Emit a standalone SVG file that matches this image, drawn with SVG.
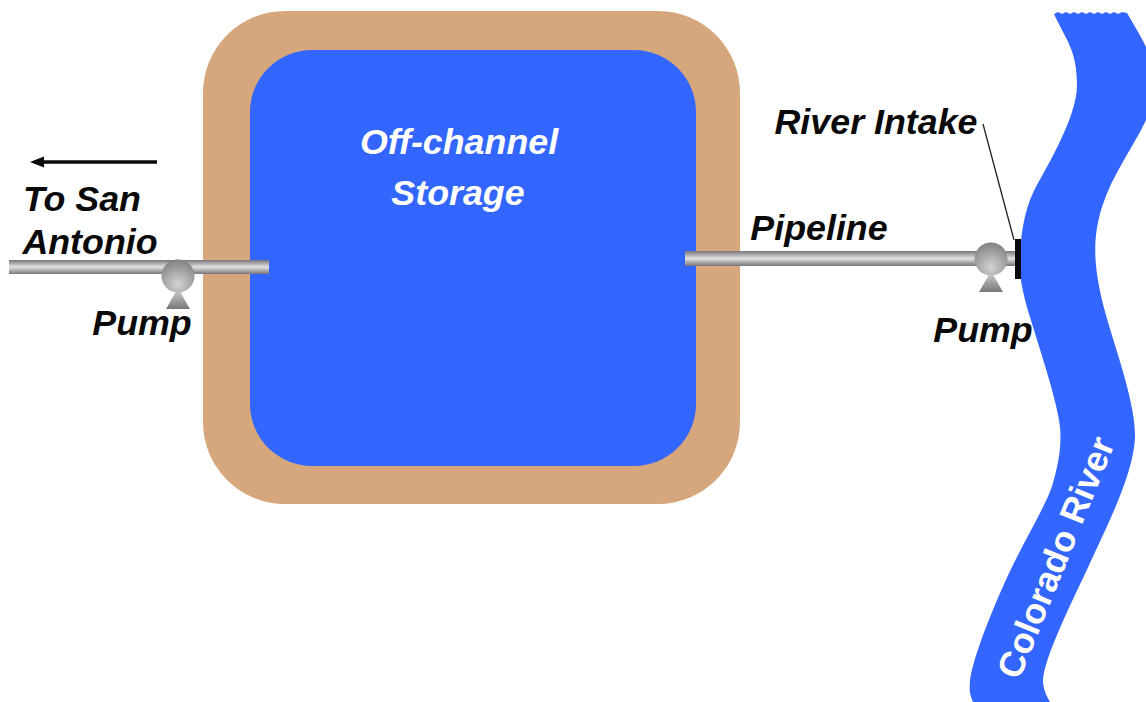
<svg xmlns="http://www.w3.org/2000/svg" width="1146" height="702" viewBox="0 0 1146 702">
<style>
.l{font-family:"Liberation Sans",Arial,sans-serif;font-weight:bold;font-style:italic;font-size:35.800px;fill:#0a0a0a}
.w{fill:#fff}
</style>
<defs>
<linearGradient id="pipe" x1="0" y1="0" x2="0" y2="1"><stop offset="0" stop-color="#77757a"/><stop offset=".5" stop-color="#e4e2e4"/><stop offset="1" stop-color="#77757a"/></linearGradient>
<radialGradient id="ball" cx=".5" cy=".75" r=".8"><stop offset="0" stop-color="#d4d2d4"/><stop offset="1" stop-color="#7d7b7e"/></radialGradient>
<linearGradient id="foot" x1="0" y1="0" x2="0" y2="1"><stop offset="0" stop-color="#d8d6d8"/><stop offset="1" stop-color="#787678"/></linearGradient>
<marker id="ah" markerUnits="userSpaceOnUse" markerWidth="14" markerHeight="12" refX="1" refY="6" orient="auto"><path d="M14 6L0 0.500V11.500Z" fill="#0a0a0a"/></marker>
<g id="pumpShape"><path d="M0 12L-12 33H12Z" fill="url(#foot)"/><circle r="16.500" fill="url(#ball)"/></g>
</defs>
<rect width="1146" height="702" fill="#fff"/>
<g id="river">
<path d="M1054 14l4 -2 4 2 4 -2 4 2 4 -2 4 2 4 -2 4 2 4 -2 4 2 4 -2 4 2 4 -2 4 2 4 -2 4 2 4 -2 5 1C1134 25 1142 38 1146 47V120C1134 146 1112 175 1102 207S1094 265 1102 300S1136 400 1135 437S1105 530 1090 563S1042 660 1043 683C1044 691 1047 697 1050 702H973C970 695 969 690 970 683C971 660 1000 590 1017 557S1049 498 1053 483S1062 450 1060 427S1040 350 1030 317S1019 270 1020 253S1024 212 1033 193S1077 120 1077 85S1066 40 1054 14Z" fill="#3366ff"/>
<text class="l w" transform="translate(1019 681) rotate(-68)" style="font-style:normal">Colorado River</text>
</g>
<g id="reservoir">
<rect x="203" y="11" width="537" height="493" rx="82" fill="#d6a77c"/>
<rect x="250" y="50" width="446" height="416" rx="62" fill="#3366ff"/>
<text class="l w" x="459" y="154" text-anchor="middle">Off-channel</text>
<text class="l w" x="458" y="205" text-anchor="middle">Storage</text>
</g>
<g id="connectors">
<rect x="9" y="260" width="260" height="14" fill="url(#pipe)"/>
<rect x="685" y="251" width="333" height="15" fill="url(#pipe)"/>
<path d="M157 162H43" fill="none" stroke="#0a0a0a" stroke-width="3.500" marker-end="url(#ah)"/>
<path d="M983 124L1014 240" fill="none" stroke="#222" stroke-width="1.300"/>
</g>
<g id="pump-left"><use href="#pumpShape" x="178" y="276"/><text class="l" x="142" y="335" text-anchor="middle">Pump</text></g>
<g id="pump-right"><use href="#pumpShape" x="991" y="259"/><text class="l" x="983" y="342" text-anchor="middle">Pump</text></g>
<g id="intake"><rect x="1015" y="239" width="6" height="40" fill="#0a0a0a"/><text class="l" x="876" y="134" text-anchor="middle">River Intake</text></g>
<g id="labels">
<text class="l" x="82" y="211" text-anchor="middle">To San</text>
<text class="l" x="90" y="254" text-anchor="middle">Antonio</text>
<text class="l" x="819" y="240" text-anchor="middle">Pipeline</text>
</g>
</svg>
